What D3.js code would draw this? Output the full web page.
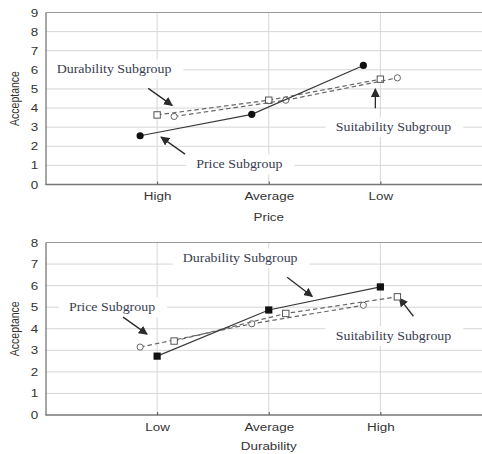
<!DOCTYPE html>
<html>
<head>
<meta charset="utf-8">
<script src="https://cdn.jsdelivr.net/npm/d3@7"></script>
<style>
  body { margin: 0; background: #fff; }
  svg { display: block; }
</style>
</head>
<body>
<div id="chart-area"></div>
<script>
// data
var priceLevels = ["High", "Average", "Low"];
var durabilityLevels = ["Low", "Average", "High"];

// chart 1 : acceptance by price
var p1Price = [2.55, 3.67, 6.23];
var p1Durability = [3.64, 4.41, 5.51];
var p1Suitability = [3.56, 4.41, 5.58];

// chart 2 : acceptance by durability
var p2Price = [3.15, 4.23, 5.09];
var p2Durability = [2.73, 4.87, 5.94];
var p2Suitability = [3.43, 4.71, 5.48];

var yTicks1 = [0, 1, 2, 3, 4, 5, 6, 7, 8, 9];
var yTicks2 = [0, 1, 2, 3, 4, 5, 6, 7, 8];

var W = 482, H = 454;
var sans = "'Liberation Sans', Arial, sans-serif";
var serif = "'Liberation Serif', 'Times New Roman', serif";
var stretch = "scale(1.22,1)";

var svg = d3.select("#chart-area").append("svg")
	.attr("width", W)
	.attr("height", H);

var defs = svg.append("defs");
defs.append("marker")
	.attr("id", "arrow")
	.attr("viewBox", "0 0 10 10")
	.attr("refX", 9).attr("refY", 5)
	.attr("markerWidth", 9).attr("markerHeight", 9)
	.attr("markerUnits", "userSpaceOnUse")
	.attr("orient", "auto")
	.append("path")
	.attr("d", "M0,0 L10,5 L0,10 z")
	.attr("fill", "#2b2b2b");

function drawChart(opt) {
	var g = svg.append("g");

	var x = d3.scalePoint()
		.domain(opt.categories)
		.range([opt.left, opt.right])
		.padding(1);
	// category index -> pixel, used for the annotation placement
	var xi = d3.scaleLinear()
		.domain([0, 1])
		.range([x(opt.categories[0]), x(opt.categories[1])]);

	var y = d3.scaleLinear()
		.domain([0, opt.yMax])
		.range([opt.bottom, opt.top]);

	// grid
	g.selectAll(".hgrid").data(opt.yTicks.filter(function(d) { return d > 0 && d < opt.yMax; }))
		.enter().append("line")
		.attr("x1", opt.left).attr("x2", W)
		.attr("y1", function(d) { return y(d); })
		.attr("y2", function(d) { return y(d); })
		.attr("stroke", "#d6d6d6").attr("stroke-width", 1);

	g.selectAll(".vgrid").data(opt.categories)
		.enter().append("line")
		.attr("x1", function(d) { return x(d); })
		.attr("x2", function(d) { return x(d); })
		.attr("y1", opt.top).attr("y2", opt.bottom)
		.attr("stroke", "#d6d6d6").attr("stroke-width", 1);

	// frame
	g.append("line")
		.attr("x1", opt.left).attr("x2", W)
		.attr("y1", opt.top).attr("y2", opt.top)
		.attr("stroke", "#9a9a9a").attr("stroke-width", 1.2);

	// annotation boxes (white, they cut the grid)
	opt.notes.forEach(function(n) {
		var t = g.append("g")
			.attr("transform", "translate(" + xi(n.lx) + "," + y(n.ly) + ")");
		var txt = t.append("text")
			.attr("transform", "scale(1.16,1)")
			.attr("dy", "0.35em")
			.attr("font-family", serif)
			.attr("font-size", "12px")
			.attr("fill", "#383c50")
			.text(n.text);
		var bb = txt.node().getBBox();
		t.insert("rect", "text")
			.attr("x", -10)
			.attr("y", bb.y - 3)
			.attr("width", bb.width * 1.16 + 22)
			.attr("height", bb.height + 6)
			.attr("fill", "#fff");

		g.append("line")
			.attr("x1", xi(n.a[0])).attr("y1", y(n.a[1]))
			.attr("x2", xi(n.a[2])).attr("y2", y(n.a[3]))
			.attr("stroke", "#2b2b2b").attr("stroke-width", 1.3)
			.attr("marker-end", "url(#arrow)");
	});

	// axes
	var xAxis = g.append("g")
		.attr("transform", "translate(0," + opt.bottom + ")")
		.call(d3.axisBottom(x).tickSizeInner(-3).tickSizeOuter(0).tickPadding(8));
	xAxis.select(".domain").attr("stroke", "#777").attr("stroke-width", 1.3)
		.attr("d", "M" + opt.left + ",0H" + W);
	xAxis.selectAll(".tick line").attr("stroke", "#555");
	xAxis.selectAll("text")
		.attr("font-family", sans).attr("font-size", "11px")
		.attr("fill", "#333")
		.attr("transform", stretch);

	var yAxis = g.append("g")
		.attr("transform", "translate(" + opt.left + ",0)")
		.call(d3.axisLeft(y).tickValues(opt.yTicks).tickSize(0).tickPadding(6));
	yAxis.select(".domain").attr("stroke", "#777").attr("stroke-width", 1.3);
	yAxis.selectAll("text")
		.attr("font-family", sans).attr("font-size", "11px")
		.attr("fill", "#333")
		.attr("transform", stretch);

	// axis titles
	g.append("text")
		.attr("transform", "translate(" + x(opt.categories[1]) + "," + opt.xTitleY + ") " + stretch)
		.attr("text-anchor", "middle")
		.attr("font-family", sans).attr("font-size", "11px")
		.attr("fill", "#333")
		.text(opt.xTitle);

	g.append("text")
		.attr("transform", "translate(19," + ((opt.top + opt.bottom) / 2) + ") rotate(-90) scale(1,1.22)")
		.attr("text-anchor", "middle")
		.attr("font-family", sans).attr("font-size", "10.5px")
		.attr("fill", "#333")
		.text("Acceptance");

	// series
	opt.series.forEach(function(s) {
		var pts = s.values.map(function(v, i) {
			return { cx: x(opt.categories[i]) + s.offset, cy: y(v) };
		});
		g.append("path")
			.datum(pts)
			.attr("fill", "none")
			.attr("stroke", s.dashed ? "#666" : "#3a3a3a")
			.attr("stroke-width", 1.2)
			.attr("stroke-dasharray", s.dashed ? "4.5,3" : null)
			.attr("d", d3.line().x(function(d) { return d.cx; }).y(function(d) { return d.cy; }));

		var m = g.selectAll(null).data(pts).enter();
		if (s.marker === "dot") {
			m.append("circle")
				.attr("cx", function(d) { return d.cx; })
				.attr("cy", function(d) { return d.cy; })
				.attr("r", 3.6).attr("fill", "#111");
		} else if (s.marker === "ring") {
			m.append("circle")
				.attr("cx", function(d) { return d.cx; })
				.attr("cy", function(d) { return d.cy; })
				.attr("r", 3.1).attr("fill", "#fff")
				.attr("stroke", "#666").attr("stroke-width", 1);
		} else if (s.marker === "box") {
			m.append("rect")
				.attr("x", function(d) { return d.cx - 3.2; })
				.attr("y", function(d) { return d.cy - 3.2; })
				.attr("width", 6.4).attr("height", 6.4)
				.attr("fill", "#fff").attr("stroke", "#555").attr("stroke-width", 1);
		} else {
			m.append("rect")
				.attr("x", function(d) { return d.cx - 3.6; })
				.attr("y", function(d) { return d.cy - 3.6; })
				.attr("width", 7.2).attr("height", 7.2)
				.attr("fill", "#111");
		}
	});
}

drawChart({
	categories: priceLevels,
	yMax: 9, yTicks: yTicks1,
	left: 45.5, right: 492, top: 12.5, bottom: 184.5,
	xTitle: "Price", xTitleY: 221,
	series: [
		{ values: p1Durability, offset: 0, dashed: true, marker: "box" },
		{ values: p1Suitability, offset: 17, dashed: true, marker: "ring" },
		{ values: p1Price, offset: -17, dashed: false, marker: "dot" }
	],
	notes: [
		{ text: "Durability Subgroup", lx: -0.9, ly: 6.03, a: [-0.08, 5.03, 0.135, 4.14] },
		{ text: "Price Subgroup", lx: 0.35, ly: 1.06, a: [0.25, 1.59, 0.035, 2.48] },
		{ text: "Suitability Subgroup", lx: 1.6, ly: 3.0, a: [1.955, 3.99, 1.955, 5.0] }
	]
});

drawChart({
	categories: durabilityLevels,
	yMax: 8, yTicks: yTicks2,
	left: 45.5, right: 492, top: 242.5, bottom: 415,
	xTitle: "Durability", xTitleY: 449.5,
	series: [
		{ values: p2Price, offset: -17, dashed: true, marker: "ring" },
		{ values: p2Suitability, offset: 17, dashed: true, marker: "box" },
		{ values: p2Durability, offset: 0, dashed: false, marker: "square" }
	],
	notes: [
		{ text: "Durability Subgroup", lx: 0.23, ly: 7.27, a: [1.165, 6.39, 1.39, 5.5] },
		{ text: "Price Subgroup", lx: -0.79, ly: 5.0, a: [-0.305, 4.54, -0.09, 3.75] },
		{ text: "Suitability Subgroup", lx: 1.6, ly: 3.66, a: [2.296, 4.58, 2.17, 5.42] }
	]
});
</script>
</body>
</html>
